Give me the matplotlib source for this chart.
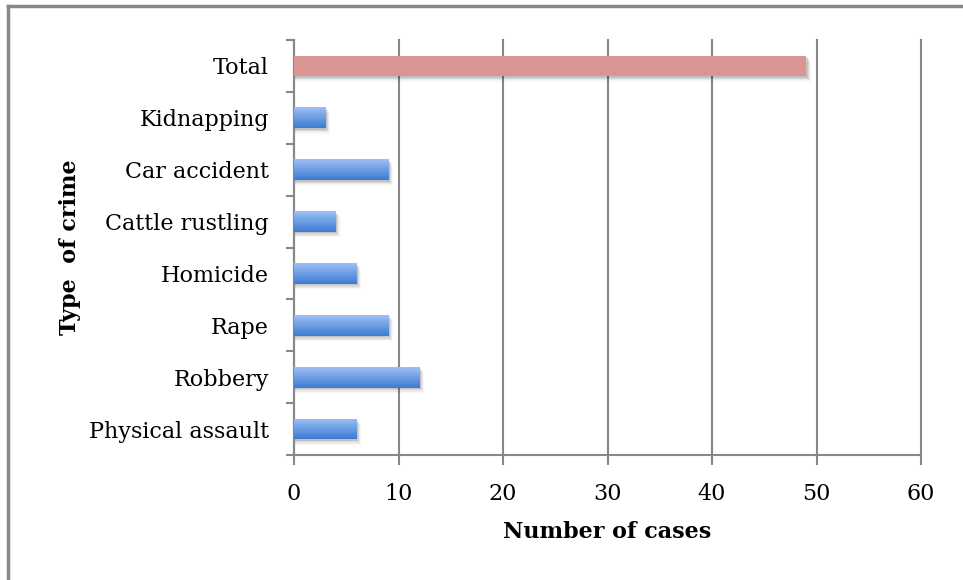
import matplotlib.pyplot as plt
import numpy as np
from matplotlib.lines import Line2D
from matplotlib.colors import LinearSegmentedColormap

crimes = ['Physical assault', 'Robbery', 'Rape', 'Homicide',
          'Cattle rustling', 'Car accident', 'Kidnapping', 'Total']
cases = [6, 12, 9, 6, 4, 9, 3, 49]

plt.rcParams['font.family'] = ['DejaVu Serif']

fig = plt.figure(figsize=(9.63, 5.80), dpi=100)
ax = fig.add_axes([294/963, 1 - 455/580, (921 - 294)/963, (455 - 40)/580])

grey = '#888888'
ypos = np.arange(len(crimes))
h = 0.4

# blue gradient for the category bars, light on top, darker below
grad = np.linspace(0, 1, 64).reshape(-1, 1)
blue = LinearSegmentedColormap.from_list('b', ['#9cc0f5', '#3d7bd0'])

for y, v, name in zip(ypos, cases, crimes):
    # soft drop shadow
    for k, a in enumerate([0.10, 0.07, 0.05, 0.03]):
        ax.barh(y - 0.03 - 0.025 * k, v + 0.15 + 0.1 * k, height=h, left=0,
                color='#000000', alpha=a, linewidth=0, zorder=2)
    if name == 'Total':
        ax.barh(y, v, height=h, color='#d99594', linewidth=0, zorder=3)
    else:
        bar = ax.barh(y, v, height=h, color='#6a9be3', linewidth=0, zorder=3)[0]
        im = ax.imshow(grad, cmap=blue, aspect='auto', zorder=4,
                       extent=[0, v, y - h / 2, y + h / 2], origin='upper')
        im.set_clip_path(bar)

ax.set_xlim(0, 60)
ax.set_ylim(-0.5, len(crimes) - 0.5)
ax.set_xticks(np.arange(0, 61, 10))
ax.set_yticks(ypos)
ax.set_yticklabels(crimes)
ax.set_yticks(np.arange(-0.5, len(crimes), 1), minor=True)
ax.tick_params(axis='y', which='major', length=0, pad=18, labelsize=16)
ax.tick_params(axis='y', which='minor', length=6, width=1.5, color=grey, direction='out')
ax.tick_params(axis='x', length=7, width=1.5, color=grey, direction='out',
               labelsize=16, pad=13)
ax.xaxis.grid(True, color=grey, linewidth=1.5, zorder=1)
ax.set_axisbelow(True)
for gl in ax.get_xgridlines():
    gl.set_clip_on(False)

for s in ['top', 'right']:
    ax.spines[s].set_visible(False)
for s in ['left', 'bottom']:
    ax.spines[s].set_color(grey)
    ax.spines[s].set_linewidth(1.5)

ax.set_xlabel('Number of cases', fontsize=16, fontweight='bold', labelpad=12)
ax.set_ylabel('Type  of crime', fontsize=16, fontweight='bold', labelpad=6)

# chart frame along top and left
fig.add_artist(Line2D([8/963, 8/963], [0, 1 - 6/580], color=grey, lw=2.5))
fig.add_artist(Line2D([8/963, 1], [1 - 6/580, 1 - 6/580], color=grey, lw=2.5))

fig.savefig('out.png', dpi=100)
